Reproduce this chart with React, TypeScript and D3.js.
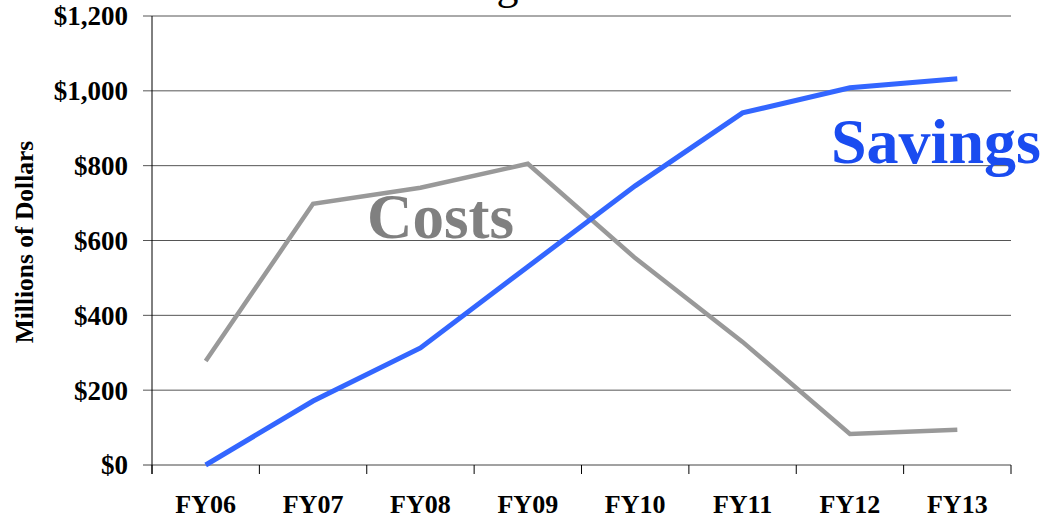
import React from "react";
import * as d3 from "d3";

const categories = ["FY06", "FY07", "FY08", "FY09", "FY10", "FY11", "FY12", "FY13"];
const costs = [278, 698, 741, 805, 553, 329, 83, 94];
const savings = [0, 171, 313, 530, 746, 941, 1008, 1032];
const yTicks = [0, 200, 400, 600, 800, 1000, 1200];
const yTickLabels = ["$0", "$200", "$400", "$600", "$800", "$1,000", "$1,200"];
const titleText = "Costs and Savings";
const yAxisTitle = "Millions of Dollars";
const costsLabel = "Costs";
const savingsLabel = "Savings";

const W = 1044;
const H = 520;
const left = 152;
const right = 1011;
const top = 16;
const bottom = 465;
const FONT = "'Liberation Serif', 'Times New Roman', serif";

export default function App() {
  const x = d3.scaleBand<string>().domain(categories).range([left, right]);
  const y = d3.scaleLinear().domain([0, 1200]).range([bottom, top]);
  const cx = (c: string) => (x(c) ?? 0) + x.bandwidth() / 2;

  const line = d3
    .line<number>()
    .x((_, i) => cx(categories[i]))
    .y((d) => y(d));

  const edges = categories.map((c) => x(c) ?? 0).concat([right]);

  return (
    <div style={{ position: "absolute", left: 0, top: 0 }}>
      <svg width={W} height={H} style={{ display: "block", background: "#fff" }}>
        <text x={213} y={-1.5} fontFamily={FONT} fontSize={44} fill="#000">
          {titleText}
        </text>
        {yTicks.map((t, i) => (
          <g key={t}>
            <line
              x1={left - 9}
              x2={right}
              y1={y(t)}
              y2={y(t)}
              stroke={t === 0 ? "#444" : "#555"}
              strokeWidth={1}
            />
            <text
              x={128}
              y={y(t)}
              dy="0.35em"
              textAnchor="end"
              fontFamily={FONT}
              fontWeight="bold"
              fontSize={27}
              fill="#000"
            >
              {yTickLabels[i]}
            </text>
          </g>
        ))}
        <line x1={left} x2={left} y1={top} y2={bottom + 9} stroke="#000" strokeWidth={1} />
        {edges.map((e, i) => (
          <line key={i} x1={e} x2={e} y1={bottom} y2={bottom + 9} stroke="#000" strokeWidth={1} />
        ))}
        {categories.map((c) => (
          <text
            key={c}
            x={cx(c)}
            y={513}
            textAnchor="middle"
            fontFamily={FONT}
            fontWeight="bold"
            fontSize={26}
            fill="#000"
          >
            {c}
          </text>
        ))}
        <text
          transform="translate(33,242) rotate(-90)"
          textAnchor="middle"
          fontFamily={FONT}
          fontWeight="bold"
          fontSize={25.5}
          fill="#000"
        >
          {yAxisTitle}
        </text>
        <path d={line(costs) ?? ""} fill="none" stroke="#999999" strokeWidth={4.5} strokeLinejoin="miter" />
        <path d={line(savings) ?? ""} fill="none" stroke="#3366FF" strokeWidth={5} strokeLinejoin="miter" />
        <text x={367} y={238} fontFamily={FONT} fontWeight="bold" fontSize={63} fill="#808080">
          {costsLabel}
        </text>
        <text x={831} y={163} fontFamily={FONT} fontWeight="bold" fontSize={64} fill="#1A4CF0">
          {savingsLabel}
        </text>
      </svg>
    </div>
  );
}
